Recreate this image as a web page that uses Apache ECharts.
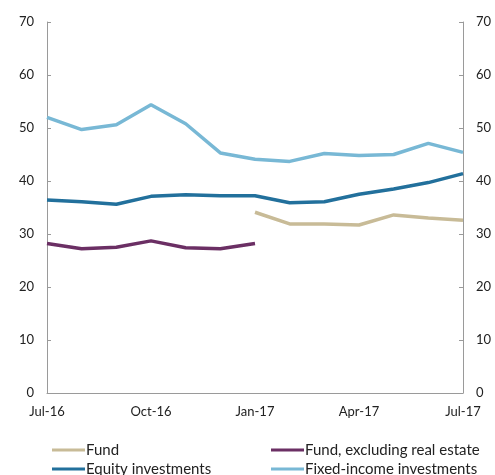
<!DOCTYPE html>
<html>
<head>
<meta charset="utf-8">
<script src="https://cdn.jsdelivr.net/npm/echarts@6/dist/echarts.min.js"></script>
<style>html,body{margin:0;padding:0;background:#fff}#c{width:495px;height:475px}</style>
</head>
<body>
<div id="c"></div>
<script>
const months = ['Jul-16','Aug-16','Sep-16','Oct-16','Nov-16','Dec-16','Jan-17','Feb-17','Mar-17','Apr-17','May-17','Jun-17','Jul-17'];
const fund = [null,null,null,null,null,null,34.1,31.9,31.9,31.7,33.6,33.0,32.6];
const fundExRealEstate = [28.2,27.2,27.5,28.7,27.4,27.2,28.2,null,null,null,null,null,null];
const equity = [36.4,36.1,35.6,37.1,37.4,37.2,37.2,35.9,36.1,37.5,38.5,39.7,41.4];
const fixedIncome = [52.0,49.7,50.6,54.4,50.8,45.3,44.1,43.7,45.2,44.8,45.0,47.1,45.4];
const yTicks = {min:0, max:70, interval:10};

const colors = {fund:'#c8bb97', exre:'#6b2f64', equity:'#22709c', fixed:'#78b8d5'};
const font = 'Lato, "Open Sans", sans-serif';

const yAxisBase = (pos) => ({
  type:'value', position:pos, min:yTicks.min, max:yTicks.max, interval:yTicks.interval,
  axisLine:{show:true, lineStyle:{color:'#9a9a9a', width:1}},
  axisTick:{show:true, inside:true, length:4, lineStyle:{color:'#9a9a9a'}},
  splitLine:{show:false},
  axisLabel:{color:'#222', fontSize:13, fontFamily:font, margin:13}
});

const mk = (name, data, color) => ({
  name, type:'line', data, showSymbol:false, symbol:'none',
  lineStyle:{color, width:3.5}, itemStyle:{color}, connectNulls:false, animation:false
});

const lg = (name, left, top) => ({
  data:[name], orient:'horizontal', left, top,
  itemWidth:33, itemHeight:3, icon:'rect', padding:0,
  textStyle:{color:'#222', fontSize:15, fontFamily:font, lineHeight:16, padding:[0,0,0,-4]}
});

const chart = echarts.init(document.getElementById('c'), null, {renderer:'canvas'});
chart.setOption({
  animation:false,
  grid:{left:47, right:32, top:22, bottom:82, containLabel:false},
  xAxis:{
    type:'category', data:months, boundaryGap:false,
    axisLine:{lineStyle:{color:'#9a9a9a'}},
    axisTick:{show:false},
    axisLabel:{interval:2, color:'#222', fontSize:13, fontFamily:font, margin:12}
  },
  yAxis:[yAxisBase('left'), yAxisBase('right')],
  legend:[
    lg('Fund', 52, 442),
    lg('Equity investments', 52, 461),
    lg('Fund, excluding real estate', 271, 442),
    lg('Fixed-income investments', 271, 461)
  ],
  series:[
    mk('Fund', fund, colors.fund),
    mk('Fund, excluding real estate', fundExRealEstate, colors.exre),
    mk('Equity investments', equity, colors.equity),
    mk('Fixed-income investments', fixedIncome, colors.fixed)
  ]
});
</script>
</body>
</html>
